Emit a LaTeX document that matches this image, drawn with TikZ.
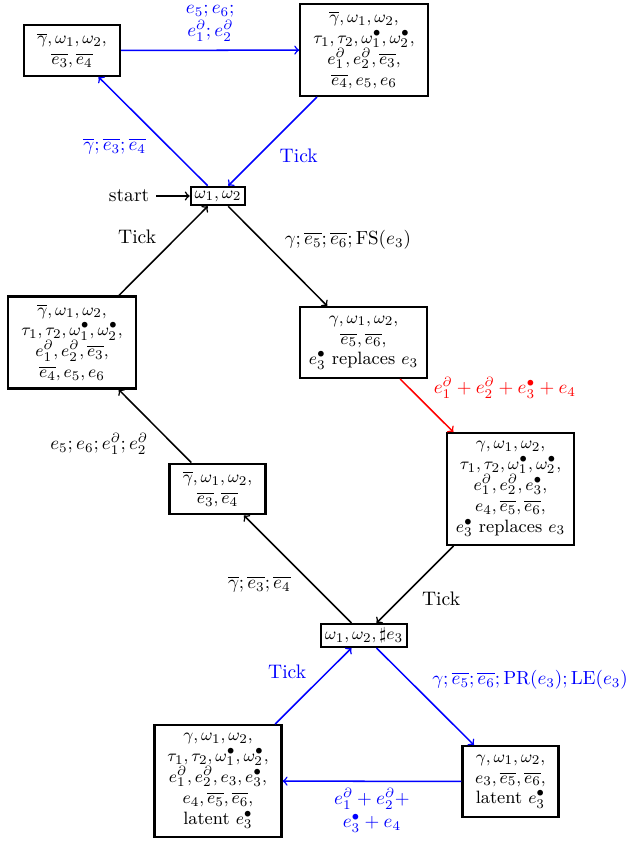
\documentclass[tikz,border=0pt]{standalone}
\begin{document}
\begin{tikzpicture}[x=0.52632pt, y=-0.52632pt,
  every node/.style={font={\fontsize{10.3}{12.3}\selectfont}},
  box/.style={draw, line width=1.2pt, align=center, inner sep=2pt,
    font={\fontsize{9.4}{11}\selectfont\lineskiplimit=-20pt\lineskip=0pt}},
  small2/.style={box, minimum width=50.6pt, minimum height=26.6pt},
  small3/.style={box, minimum width=50.6pt, minimum height=37.2pt},
  big3/.style={box, minimum width=66.8pt, minimum height=37.2pt},
  big4/.style={box, minimum width=67pt, minimum height=48.3pt},
  big5/.style={box, minimum width=66.8pt, minimum height=58.8pt},
  arr/.style={->, line width=0.8pt},
  barr/.style={arr, draw=blue},
  rarr/.style={arr, draw=red},
  lbl/.style={align=center}]
\useasboundingbox (0,0) rectangle (635,844);

\node[small2] (TL) at (72,50.5) {$\overline{\gamma},\omega_1,\omega_2,$\\$\overline{e_3},\overline{e_4}$};
\node[big4] (TR) at (364,50) {$\overline{\gamma},\omega_1,\omega_2,$\\$\tau_1,\tau_2,\omega_1^\bullet,\omega_2^\bullet,$\\$e_1^\partial,e_2^\partial,\overline{e_3},$\\$\overline{e_4},e_5,e_6$};
\node[box] (S) at (218,196) {$\omega_1,\omega_2$};
\node[big4] (LM) at (72,342.5) {$\overline{\gamma},\omega_1,\omega_2,$\\$\tau_1,\tau_2,\omega_1^\bullet,\omega_2^\bullet,$\\$e_1^\partial,e_2^\partial,\overline{e_3},$\\$\overline{e_4},e_5,e_6$};
\node[big3] (RM) at (363.5,342.5) {$\gamma,\omega_1,\omega_2,$\\$\overline{e_5},\overline{e_6},$\\$e_3^\bullet$ replaces $e_3$};
\node[big5] (RM2) at (510.5,489) {$\gamma,\omega_1,\omega_2,$\\$\tau_1,\tau_2,\omega_1^\bullet,\omega_2^\bullet,$\\$e_1^\partial,e_2^\partial,e_3^\bullet,$\\$e_4,\overline{e_5},\overline{e_6},$\\$e_3^\bullet$ replaces $e_3$};
\node[small2] (MS) at (217.5,489) {$\overline{\gamma},\omega_1,\omega_2,$\\$\overline{e_3},\overline{e_4}$};
\node[box] (LC) at (364,635.5) {$\omega_1,\omega_2,\sharp e_3$};
\node[big5] (BL) at (218,781) {$\gamma,\omega_1,\omega_2,$\\$\tau_1,\tau_2,\omega_1^\bullet,\omega_2^\bullet,$\\$e_1^\partial,e_2^\partial,e_3,e_3^\bullet,$\\$e_4,\overline{e_5},\overline{e_6},$\\latent $e_3^\bullet$};
\node[small3] (BR) at (510.5,781.5) {$\gamma,\omega_1,\omega_2,$\\$e_3,\overline{e_5},\overline{e_6},$\\latent $e_3^\bullet$};

\node[anchor=east] (start) at (156,196) {start};
\draw[arr] (start.east) -- (S.west);

\draw[barr] (TL) -- node[lbl, midway, above=1pt, text=blue] {$e_5;e_6;$\\$e_1^\partial;e_2^\partial$} (TR);
\draw[barr] (S) -- node[lbl, midway, anchor=north east, text=blue] {$\overline{\gamma};\overline{e_3};\overline{e_4}$} (TL);
\draw[barr] (TR) -- node[lbl, midway, anchor=north west, text=blue] {Tick} (S);
\draw[arr] (S) -- node[lbl, midway, anchor=south west] {$\gamma;\overline{e_5};\overline{e_6};\mathrm{FS}(e_3)$} (RM);
\draw[rarr] (RM) -- node[lbl, midway, anchor=south west, text=red] {$e_1^\partial+e_2^\partial+e_3^\bullet+e_4$} (RM2);
\draw[arr] (RM2) -- node[lbl, midway, anchor=north west] {Tick} (LC);
\draw[arr] (LC) -- node[lbl, midway, anchor=north east] {$\overline{\gamma};\overline{e_3};\overline{e_4}$} (MS);
\draw[arr] (MS) -- node[lbl, midway, anchor=north east] {$e_5;e_6;e_1^\partial;e_2^\partial$} (LM);
\draw[arr] (LM) -- node[lbl, midway, anchor=south east] {Tick} (S);
\draw[barr] (LC) -- node[lbl, midway, anchor=south west, text=blue] {$\gamma;\overline{e_5};\overline{e_6};\mathrm{PR}(e_3);\mathrm{LE}(e_3)$} (BR);
\draw[barr] (BR) -- node[lbl, midway, anchor=north, text=blue] {$e_1^\partial+e_2^\partial+$\\$e_3^\bullet+e_4$} (BL);
\draw[barr] (BL) -- node[lbl, midway, anchor=south east, text=blue] {Tick} (LC);
\end{tikzpicture}
\end{document}
